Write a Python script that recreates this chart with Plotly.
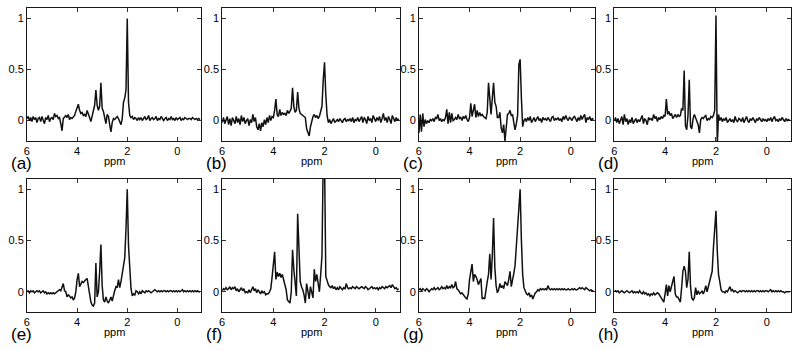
import plotly.graph_objects as go

ppm = [6.00, 5.95, 5.90, 5.85, 5.80, 5.75, 5.70, 5.65, 5.60, 5.55,
       5.50, 5.45, 5.40, 5.35, 5.30, 5.25, 5.20, 5.15, 5.10, 5.05,
       5.00, 4.95, 4.90, 4.85, 4.80, 4.75, 4.70, 4.65, 4.60, 4.55,
       4.50, 4.45, 4.40, 4.35, 4.30, 4.25, 4.20, 4.15, 4.10, 4.05,
       4.00, 3.95, 3.90, 3.85, 3.80, 3.75, 3.70, 3.65, 3.60, 3.55,
       3.50, 3.45, 3.40, 3.35, 3.30, 3.25, 3.20, 3.15, 3.10, 3.05,
       3.00, 2.95, 2.90, 2.85, 2.80, 2.75, 2.70, 2.65, 2.60, 2.55,
       2.50, 2.45, 2.40, 2.35, 2.30, 2.25, 2.20, 2.15, 2.10, 2.05,
       2.00, 1.95, 1.90, 1.85, 1.80, 1.75, 1.70, 1.65, 1.60, 1.55,
       1.50, 1.45, 1.40, 1.35, 1.30, 1.25, 1.20, 1.15, 1.10, 1.05,
       1.00, 0.95, 0.90, 0.85, 0.80, 0.75, 0.70, 0.65, 0.60, 0.55,
       0.50, 0.45, 0.40, 0.35, 0.30, 0.25, 0.20, 0.15, 0.10, 0.05,
       0.00, -0.05, -0.10, -0.15, -0.20, -0.25, -0.30, -0.35, -0.40, -0.45,
       -0.50, -0.55, -0.60, -0.65, -0.70, -0.75, -0.80, -0.85, -0.90]

spec_a = [0.02, 0.04, 0.00, 0.03, -0.01, 0.04, 0.01, 0.03, -0.02, 0.02,
          0.03, -0.01, 0.04, 0.00, -0.03, 0.03, 0.01, 0.05, -0.01, 0.02,
          0.03, 0.01, 0.07, 0.04, 0.05, 0.02, 0.03, -0.03, -0.10, 0.02,
          0.04, 0.05, 0.03, 0.06, 0.01, 0.03, 0.02, 0.04, 0.05, 0.09,
          0.13, 0.16, 0.10, 0.07, 0.08, 0.05, 0.06, 0.04, 0.10, 0.07,
          0.03, -0.01, 0.04, 0.08, 0.15, 0.30, 0.15, 0.10, 0.14, 0.37,
          0.12, 0.09, 0.04, -0.03, 0.06, 0.04, -0.04, -0.11, -0.02, 0.02,
          0.01, 0.03, 0.04, 0.02, -0.02, -0.04, 0.02, 0.18, 0.22, 0.30,
          1.00, 0.18, 0.05, 0.03, 0.04, 0.01, 0.03, 0.02, 0.00, 0.03,
          0.01, 0.03, 0.00, 0.02, 0.04, 0.01, 0.02, 0.05, 0.00, 0.02,
          0.03, 0.01, 0.02, 0.04, 0.00, 0.02, 0.01, 0.04, 0.02, 0.00,
          0.02, 0.03, 0.00, 0.02, 0.01, 0.04, 0.01, 0.02, 0.00, 0.03,
          0.01, 0.02, 0.03, 0.00, 0.02, 0.01, 0.03, 0.02, 0.01, 0.02,
          0.02, 0.01, 0.03, 0.02, 0.01, 0.02, 0.01, 0.02, 0.01]

spec_b = [-0.02, 0.03, -0.03, 0.01, 0.04, -0.04, 0.02, -0.05, 0.03, 0.00,
          -0.03, 0.04, -0.02, 0.02, -0.04, 0.05, -0.01, 0.03, -0.03, 0.00,
          0.02, -0.05, 0.01, -0.02, 0.06, -0.01, 0.03, -0.06, -0.09, -0.03,
          -0.10, -0.02, -0.06, 0.01, -0.04, 0.03, -0.02, 0.05, 0.00, 0.04,
          0.03, 0.10, 0.21, 0.06, 0.04, 0.11, 0.05, 0.08, 0.06, 0.07,
          0.05, 0.10, 0.07, 0.09, 0.12, 0.32, 0.14, 0.08, 0.10, 0.28,
          0.12, 0.07, 0.06, 0.05, 0.04, 0.03, -0.08, -0.13, -0.15, -0.06,
          0.01, 0.04, 0.06, 0.03, 0.05, 0.02, 0.04, 0.08, 0.14, 0.40,
          0.57, 0.25, 0.05, -0.02, 0.01, -0.03, -0.01, 0.02, -0.02, 0.00,
          0.01, -0.01, 0.02, 0.00, -0.02, 0.01, 0.02, -0.01, 0.01, 0.00,
          0.02, -0.01, 0.03, -0.02, 0.01, 0.00, 0.03, -0.01, 0.02, 0.04,
          -0.02, 0.03, 0.01, -0.03, 0.04, 0.00, 0.02, -0.02, 0.05, 0.01,
          -0.01, 0.03, 0.00, 0.04, -0.02, 0.02, 0.07, 0.00, 0.03, -0.02,
          0.04, 0.01, -0.03, 0.05, 0.02, -0.01, 0.03, 0.00, 0.02]

spec_c = [-0.12, 0.06, -0.11, 0.07, -0.06, 0.01, -0.03, 0.00, -0.02, 0.01,
          0.00, 0.02, -0.01, 0.03, 0.02, 0.06, 0.00, 0.02, -0.01, 0.01,
          0.00, 0.03, 0.11, -0.03, 0.08, -0.02, 0.07, 0.00, 0.01, 0.03,
          0.01, 0.06, 0.02, 0.03, 0.00, 0.04, 0.02, 0.05, 0.01, -0.01,
          0.03, 0.17, 0.04, 0.09, 0.16, 0.03, 0.10, 0.04, 0.08, 0.05,
          0.06, 0.04, 0.03, 0.02, 0.08, 0.37, 0.22, 0.06, 0.22, 0.37,
          0.18, 0.14, 0.03, 0.03, 0.08, -0.07, -0.12, -0.04, -0.20, -0.03,
          0.06, 0.07, 0.10, 0.05, 0.06, -0.02, -0.09, -0.03, 0.05, 0.55,
          0.60, 0.22, -0.06, 0.00, 0.02, -0.01, 0.03, 0.00, 0.04, -0.02,
          0.01, 0.03, -0.01, 0.02, 0.04, 0.00, 0.02, -0.02, 0.03, 0.01,
          0.02, 0.00, 0.03, 0.01, -0.01, 0.03, 0.04, 0.00, 0.02, 0.01,
          0.03, 0.00, 0.02, -0.01, 0.04, 0.01, 0.05, 0.02, 0.00, 0.03,
          0.02, 0.00, 0.03, 0.04, 0.01, -0.01, 0.03, 0.00, 0.05, 0.01,
          0.04, 0.06, -0.02, 0.03, 0.01, 0.04, 0.00, 0.02, 0.01]

spec_d = [0.00, 0.03, -0.02, 0.02, -0.03, 0.01, 0.04, -0.04, 0.06, -0.01,
          0.02, -0.04, 0.01, -0.02, 0.03, -0.03, 0.00, 0.02, -0.02, 0.01,
          -0.01, 0.03, 0.05, -0.03, 0.02, 0.00, -0.04, 0.03, 0.01, 0.02,
          0.00, 0.06, 0.02, 0.04, -0.01, 0.03, 0.01, 0.04, 0.02, 0.05,
          0.04, 0.21, 0.06, 0.09, 0.05, 0.07, 0.02, 0.04, 0.06, 0.03,
          0.06, 0.04, 0.05, 0.12, 0.10, 0.49, -0.05, -0.09, 0.05, 0.40,
          -0.06, -0.08, 0.02, 0.06, 0.03, 0.00, -0.04, -0.12, 0.01, 0.03,
          0.02, 0.04, 0.05, 0.00, 0.02, 0.01, 0.04, 0.03, 0.05, 0.10,
          1.03, -0.25, 0.06, 0.00, 0.03, -0.01, 0.02, 0.00, 0.03, -0.02,
          0.00, 0.02, -0.01, 0.01, -0.02, 0.04, 0.00, -0.01, 0.02, 0.01,
          -0.01, 0.03, -0.02, 0.01, 0.04, 0.00, -0.02, 0.02, 0.00, 0.03,
          0.01, -0.02, 0.02, 0.00, 0.03, 0.01, -0.01, 0.02, 0.00, 0.01,
          -0.01, 0.02, 0.00, 0.03, -0.01, 0.02, 0.04, 0.00, 0.01, -0.01,
          0.02, 0.00, 0.03, 0.01, -0.01, 0.02, 0.00, 0.01, 0.00]

spec_e = [0.00, 0.01, -0.01, 0.01, 0.00, 0.01, -0.01, 0.00, 0.01, 0.00,
          0.01, -0.01, 0.00, 0.01, -0.01, 0.00, -0.02, -0.01, -0.02, -0.01,
          -0.02, -0.01, -0.02, -0.01, 0.00, 0.01, 0.02, 0.01, 0.04, 0.08,
          0.01, 0.00, -0.05, -0.03, -0.04, -0.06, -0.05, -0.08, -0.06, 0.00,
          0.12, 0.18, 0.05, 0.08, 0.10, 0.09, 0.11, 0.12, 0.13, 0.04,
          -0.05, -0.10, -0.13, -0.14, -0.11, 0.28, -0.05, 0.00, 0.20, 0.46,
          0.06, -0.08, -0.10, -0.05, -0.09, -0.11, -0.08, -0.05, -0.09, -0.03,
          0.01, 0.05, 0.04, 0.12, 0.04, 0.10, 0.17, 0.23, 0.33, 0.62,
          1.00, 0.45, 0.18, 0.03, -0.04, -0.02, -0.03, 0.01, 0.00, -0.02,
          0.00, -0.02, 0.01, 0.00, -0.01, 0.01, 0.00, 0.01, 0.00, -0.01,
          0.00, 0.01, 0.02, 0.01, 0.00, 0.01, 0.00, 0.01, 0.00, 0.01,
          0.01, 0.00, 0.01, 0.00, 0.01, 0.01, 0.00, 0.01, 0.00, 0.01,
          0.00, 0.01, 0.00, 0.01, 0.02, 0.00, 0.01, 0.00, 0.01, 0.00,
          0.01, 0.00, 0.01, 0.00, 0.01, 0.00, 0.01, 0.00, 0.00]

spec_f = [0.01, 0.03, 0.02, 0.04, 0.02, 0.03, 0.05, 0.02, 0.04, 0.03,
          0.05, 0.01, 0.03, 0.00, 0.02, 0.04, 0.01, 0.03, -0.01, 0.00,
          -0.01, 0.02, -0.01, 0.03, 0.05, 0.01, 0.03, -0.01, 0.02, 0.00,
          -0.02, 0.01, -0.01, 0.00, -0.03, -0.02, -0.02, 0.00, 0.03, 0.14,
          0.30, 0.39, 0.12, 0.19, 0.15, 0.18, 0.14, 0.17, 0.12, 0.08,
          0.02, -0.08, -0.10, -0.11, 0.00, 0.41, 0.22, 0.08, -0.04, 0.76,
          0.30, 0.10, 0.05, 0.02, -0.03, -0.11, 0.08, -0.02, -0.07, 0.05,
          0.00, -0.06, 0.22, 0.10, 0.17, 0.05, 0.00, 0.17, 0.35, 1.30,
          1.30, 0.15, 0.10, 0.07, 0.05, 0.04, 0.06, 0.03, 0.05, 0.02,
          0.04, 0.02, 0.05, 0.03, 0.02, 0.04, 0.03, 0.08, 0.04, 0.03,
          0.04, 0.03, 0.05, 0.04, 0.03, 0.05, 0.04, 0.03, 0.04, 0.05,
          0.04, 0.03, 0.05, 0.04, 0.02, 0.03, 0.04, 0.05, 0.03, 0.04,
          0.03, 0.04, 0.02, 0.04, 0.03, 0.05, 0.04, 0.03, 0.05, 0.04,
          0.05, 0.06, 0.04, 0.07, 0.05, 0.03, 0.04, 0.02, 0.03]

spec_g = [0.02, 0.03, 0.01, 0.03, 0.02, 0.01, 0.03, 0.02, 0.00, 0.02,
          0.03, 0.02, 0.04, 0.02, 0.03, 0.04, 0.02, 0.03, 0.05, 0.03,
          0.04, 0.03, 0.06, 0.03, 0.05, 0.04, 0.07, 0.04, 0.05, 0.10,
          0.03, 0.02, 0.00, -0.02, -0.01, -0.03, -0.05, -0.06, -0.07, -0.02,
          0.12, 0.18, 0.27, 0.10, 0.17, 0.15, 0.12, 0.07, 0.10, 0.13,
          -0.07, -0.06, -0.07, 0.04, 0.10, 0.17, 0.37, 0.12, 0.35, 0.72,
          0.24, 0.06, -0.01, 0.02, 0.08, 0.04, 0.06, 0.03, 0.10, 0.08,
          0.06, 0.12, 0.20, 0.05, 0.10, 0.18, 0.26, 0.45, 0.62, 0.85,
          1.00, 0.50, 0.17, 0.04, 0.01, -0.02, -0.03, -0.01, -0.05, -0.03,
          -0.07, -0.04, -0.01, 0.00, 0.02, 0.01, 0.03, 0.02, 0.03, 0.02,
          0.03, 0.02, 0.06, 0.03, 0.02, 0.03, 0.02, 0.03, 0.02, 0.03,
          0.02, 0.03, 0.02, 0.03, 0.02, 0.03, 0.02, 0.02, 0.03, 0.02,
          0.02, 0.03, 0.02, 0.03, 0.02, 0.02, 0.03, 0.04, 0.03, 0.04,
          0.03, 0.02, 0.04, 0.03, 0.02, 0.01, 0.02, 0.01, 0.01]

spec_h = [0.00, 0.01, 0.00, 0.01, -0.01, 0.00, 0.01, 0.00, -0.01, 0.00,
          0.01, 0.00, -0.01, 0.00, 0.01, -0.01, 0.00, -0.01, 0.00, -0.01,
          0.01, -0.01, -0.02, 0.00, -0.02, -0.01, -0.03, -0.02, -0.04, -0.02,
          -0.03, -0.01, -0.03, -0.02, -0.01, -0.02, -0.04, -0.05, -0.07, -0.10,
          -0.02, 0.07, -0.04, 0.06, 0.00, 0.05, 0.10, 0.15, -0.02, -0.05,
          -0.05, -0.07, -0.10, 0.04, 0.20, 0.25, 0.20, 0.04, 0.12, 0.39,
          0.05, -0.06, -0.08, -0.06, 0.04, -0.03, 0.01, -0.02, -0.01, 0.01,
          -0.02, 0.01, 0.06, 0.00, 0.05, 0.10, 0.12, 0.20, 0.43, 0.62,
          0.79, 0.40, 0.17, 0.10, 0.02, 0.00, 0.00, -0.01, 0.01, 0.00,
          0.02, 0.05, 0.01, 0.02, 0.00, 0.01, 0.00, -0.01, 0.00, 0.01,
          0.00, 0.01, 0.01, 0.00, 0.01, 0.00, 0.01, 0.00, 0.01, 0.00,
          0.01, 0.00, 0.01, 0.01, 0.00, 0.01, 0.00, 0.01, 0.00, 0.01,
          0.01, 0.00, 0.01, 0.02, 0.00, 0.01, 0.00, 0.01, 0.00, 0.01,
          0.00, 0.01, 0.00, 0.00, -0.01, 0.00, 0.00, 0.00, 0.00]

panel_labels = ["(a)", "(b)", "(c)", "(d)", "(e)", "(f)", "(g)", "(h)"]
spectra = [spec_a, spec_b, spec_c, spec_d, spec_e, spec_f, spec_g, spec_h]
x_tick_vals = [6, 4, 2, 0]
x_tick_text = ["6", "4", "2", "0"]
y_tick_vals = [0, 0.5, 1]
y_tick_text = ["0", "0.5", "1"]

W, H = 800, 350
# pixel boxes (left, right) per column and (top, bottom) per row
col_px = [(24, 199), (220, 398.5), (417.5, 594), (613.5, 791)]
row_px = [(8.3, 141), (179, 312.3)]

font_family = "Liberation Sans, Arial, Helvetica, sans-serif"
fig = go.Figure()
annotations = []
layout_axes = {}
for i, (lab, ys) in enumerate(zip(panel_labels, spectra)):
    r, c = divmod(i, 4)
    n = "" if i == 0 else str(i + 1)
    fig.add_trace(go.Scatter(x=ppm, y=ys, mode="lines",
                             line=dict(color="#111111", width=1.5),
                             xaxis="x" + n, yaxis="y" + n, showlegend=False,
                             hoverinfo="skip"))
    x0, x1 = col_px[c]
    t, b = row_px[r]
    common = dict(showline=True, linecolor="black", linewidth=0.9,
                  mirror="ticks", ticks="inside", ticklen=4, tickwidth=0.8,
                  tickcolor="black", showgrid=False, zeroline=False,
                  tickfont=dict(family=font_family, size=11, color="black"))
    layout_axes["xaxis" + n] = dict(domain=[x0 / W, x1 / W], range=[6, -0.95],
                                    tickvals=x_tick_vals, ticktext=x_tick_text,
                                    anchor="y" + n, **common)
    layout_axes["yaxis" + n] = dict(domain=[1 - b / H, 1 - t / H], range=[-0.2, 1.1],
                                    tickvals=y_tick_vals, ticktext=y_tick_text,
                                    anchor="x" + n, **common)
    ppm_y = 161 if r == 0 else 332
    annotations.append(dict(text="ppm", x=(x0 + x1) / 2 / W, y=1 - ppm_y / H,
                            xref="paper", yref="paper", showarrow=False,
                            xanchor="center", yanchor="middle",
                            font=dict(family=font_family, size=11, color="black")))
    lab_y = 163.5 if r == 0 else 334.5
    annotations.append(dict(text=lab, x=(x0 - 18) / W, y=1 - lab_y / H,
                            xref="paper", yref="paper", showarrow=False,
                            xanchor="left", yanchor="middle",
                            font=dict(family=font_family, size=17, color="black")))

fig.update_layout(width=W, height=H, margin=dict(l=0, r=0, t=0, b=0),
                  paper_bgcolor="white", plot_bgcolor="white",
                  annotations=annotations, **layout_axes)
fig.write_html("out.html",
               config={"displayModeBar": False, "staticPlot": True},
               post_script="document.body.style.margin='0';"
                           "document.body.style.overflow='hidden';"
                           "document.documentElement.style.overflow='hidden';")
